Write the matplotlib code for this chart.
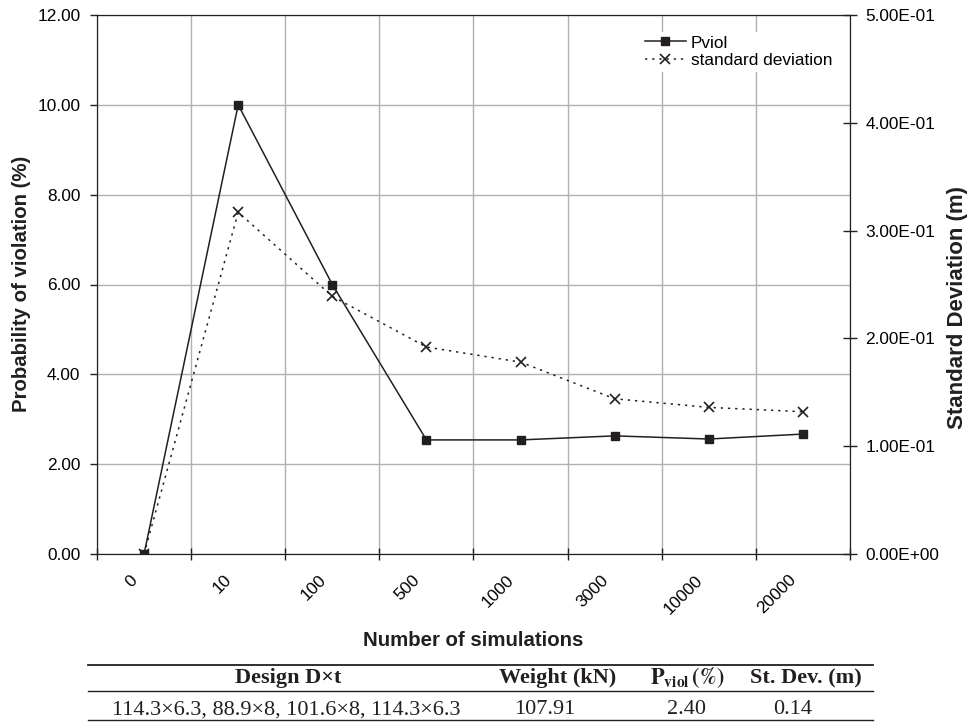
import numpy as np
import matplotlib.pyplot as plt
from matplotlib.ticker import FixedLocator, FormatStrFormatter
from matplotlib.transforms import ScaledTranslation

plt.rcParams['font.family'] = ['Liberation Sans', 'DejaVu Sans']
plt.rcParams['mathtext.fontset'] = 'stix'

# Data
simulations = ['0', '10', '100', '500', '1000', '3000', '10000', '20000']
p_viol = [0.0, 10.0, 6.0, 2.54, 2.54, 2.63, 2.56, 2.67]
std_dev = [0.0, 0.317, 0.239, 0.192, 0.178, 0.144, 0.136, 0.132]

table_header = ['Design D×t', 'Weight (kN)', r'$\mathbf{P_{viol}\,(\%)}$', 'St. Dev. (m)']
table_row = ['114.3×6.3, 88.9×8, 101.6×8, 114.3×6.3', '107.91', '2.40', '0.14']

ink = '#231f20'
W, H = 970, 722

fig = plt.figure(figsize=(9.7, 7.22), dpi=100)
ax = fig.add_axes([97 / W, 1 - 554 / H, 753 / W, 539 / H])
ax2 = ax.twinx()

x = np.arange(len(simulations))
l1, = ax.plot(x, p_viol, color=ink, lw=1.1, marker='s', markersize=6,
              label='Pviol', zorder=5)
l2, = ax2.plot(x, std_dev, color=ink, lw=1.1, linestyle=(0, (1.5, 3.2)),
               marker='x', markersize=7, markeredgewidth=1.2,
               label='standard deviation', zorder=5)

ax.set_xlim(-0.5, len(simulations) - 0.5)
ax.set_ylim(0, 12)
ax2.set_ylim(0, 0.5)

ax.set_yticks(np.arange(0, 12.1, 2))
ax.yaxis.set_major_formatter(FormatStrFormatter('%.2f'))
ax2.set_yticks(np.arange(0, 0.51, 0.1))
ax2.yaxis.set_major_formatter(FormatStrFormatter('%.2E'))

# category boundaries carry ticks and grid, labels sit at centres
ax.xaxis.set_major_locator(FixedLocator(np.arange(-0.5, len(simulations), 1.0)))
ax.xaxis.set_minor_locator(FixedLocator(x))
ax.set_xticklabels([], minor=False)
ax.set_xticklabels(simulations, minor=True, rotation=45, ha='right', va='center',
                   rotation_mode='anchor', fontsize=12.4)
ax.tick_params(axis='x', which='minor', length=0, pad=17)
ax.tick_params(axis='x', which='major', direction='inout', length=8, width=1, color=ink)
ax.tick_params(axis='y', direction='out', length=5, width=1, labelsize=12.4, pad=7,
               color=ink)
ax2.tick_params(axis='y', direction='inout', length=10, width=1, labelsize=12.4, pad=6,
                color=ink)

ax.grid(True, which='major', color='#aeb2b6', lw=1)
ax.set_axisbelow(True)
for s in list(ax.spines.values()) + list(ax2.spines.values()):
    s.set_color(ink)

fig.text(22 / W, 1 - 284 / H, 'Probability of violation (%)', rotation=90,
         fontsize=14.7, fontweight='bold', ha='center', va='center', color=ink)
fig.text(958 / W, 1 - 307 / H, 'Standard Deviation (m)', rotation=90,
         fontsize=16, fontweight='bold', ha='center', va='center', color=ink)
fig.text(473 / W, 1 - 640 / H, 'Number of simulations', fontsize=14.7,
         fontweight='bold', ha='center', va='center', color=ink)

leg = ax2.legend([l1, l2], ['Pviol', 'standard deviation'], loc='upper right',
                 bbox_to_anchor=(1 - 14 / 753, 1 - 17 / 539), frameon=True,
                 fontsize=12.4, handlelength=2.4, handletextpad=0.3,
                 labelspacing=0.15, borderpad=0.2, borderaxespad=0)
leg.get_frame().set_facecolor('white')
leg.get_frame().set_edgecolor('none')
leg.get_frame().set_alpha(1)

# table below the chart
for yy, lw in [(665, 1.3), (691, 1.0), (720, 1.0)]:
    fig.add_artist(plt.Line2D([88 / W, 873 / W], [1 - yy / H, 1 - yy / H],
                              color=ink, lw=lw))
head_x = [288, 558, 687, 806]
row_x = [286, 545, 687, 793]
for hx, rx, h, v in zip(head_x, row_x, table_header, table_row):
    fig.text(hx / W, 1 - 678 / H, h, ha='center', va='center', fontsize=16,
             fontweight='bold', family='Liberation Serif', color=ink)
    fig.text(rx / W, 1 - 710 / H, v, ha='center', va='center', fontsize=16,
             family='Liberation Serif', color=ink)

# nudge the rotated category labels left, after all tick_params calls
fig.canvas.draw()
shift = ScaledTranslation(-0.09, 0, fig.dpi_scale_trans)
for lbl in ax.get_xticklabels(minor=True):
    lbl.set_transform(lbl.get_transform() + shift)

fig.savefig('out.png', dpi=100)
